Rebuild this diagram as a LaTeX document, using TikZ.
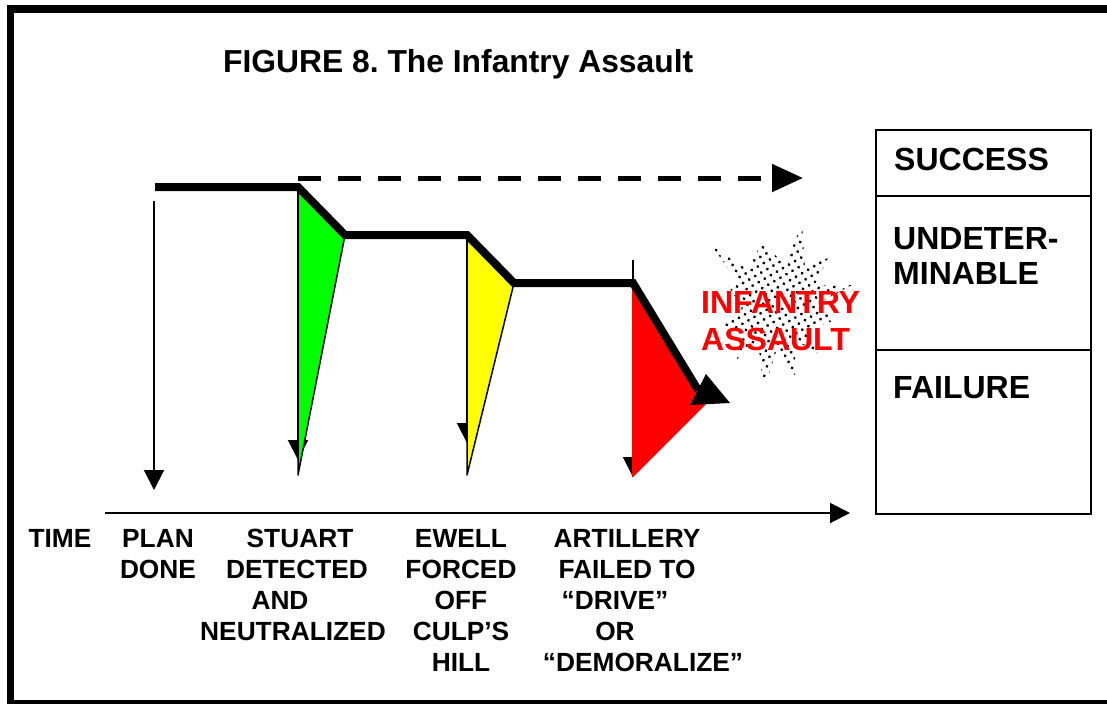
\documentclass[tikz,border=0pt]{standalone}
\usepackage{fontspec}
\setmainfont{Liberation Sans}
\usetikzlibrary{arrows.meta,patterns.meta}
\definecolor{vgreen}{RGB}{0,255,0}
\definecolor{vyellow}{RGB}{255,255,0}
\definecolor{vred}{RGB}{255,0,0}
\frenchspacing
\begin{document}
\begin{tikzpicture}[x=1pt,y=-1pt,
  thinarrow/.style={line width=2pt,-{Triangle[length=20pt,width=20pt]}},
  stage/.style={line width=8pt},
  lbl/.style={font=\bfseries\fontsize{26.3}{31}\selectfont, align=center, anchor=north, inner sep=0pt},
  boxlbl/.style={font=\bfseries\fontsize{32}{35}\selectfont, anchor=base west, inner sep=0pt},
  cell/.style={draw, line width=1.5pt, minimum width=215pt, anchor=north west, inner sep=0pt},
  wedge/.style={draw=black, line width=1.5pt, line join=round}]
\useasboundingbox (0,0) rectangle (1107,704);
\fill[white] (0,0) rectangle (1107,704);
% frame
\fill[black] (7,5) rectangle (1107,13);
\fill[black] (7,5) rectangle (14,704);
\fill[black] (7,700) rectangle (1107,704);

% title
\node[font=\bfseries\fontsize{31.8}{36}\selectfont, anchor=base west, inner sep=0pt] (title) at (223,72) {FIGURE 8. The Infantry Assault};

% key points of the stage line
\coordinate (p0) at (155,187);
\coordinate (p1) at (298,187);
\coordinate (p2) at (345,235);
\coordinate (p3) at (467,235);
\coordinate (p4) at (514,283);
\coordinate (p5) at (633,283);
\coordinate (p6) at (698,390);

% vertical arrows
\coordinate (a0s) at (154,201); \coordinate (a0e) at (154,490);
\coordinate (a1s) at (298,190); \coordinate (a1e) at (298,460);
\coordinate (a2s) at (467,238); \coordinate (a2e) at (467,443);
\coordinate (a3s) at (633,260); \coordinate (a3e) at (633,477);
\draw[thinarrow] (a0s) -- (a0e);
\draw[thinarrow] (a1s) -- (a1e);
\draw[thinarrow] (a2s) -- (a2e);
\draw[thinarrow] (a3s) -- (a3e);

% coloured wedges
\coordinate (g0) at (298,475);
\coordinate (y0) at (467,475);
\coordinate (r0) at (633,477);
\coordinate (r1) at (707,403);
\filldraw[wedge, fill=vgreen] (p1) -- (p2) -- (g0) -- cycle;
\filldraw[wedge, fill=vyellow] (p3) -- (p4) -- (y0) -- cycle;
\fill[vred] (632,283) -- (p5) -- (r1) -- (r0) -- (632,477) -- cycle;

% stage line and its head
\draw[stage] (p0) -- (p1) -- (p2) -- (p3) -- (p4) -- (p5) -- (p6);
\fill[black] (690,405) -- (730,403) -- (706,374) -- cycle;

% dashed arrow
\coordinate (d0) at (298,178);
\coordinate (d1) at (803,178);
\draw[line width=5pt, dash pattern=on 23pt off 17pt, -{Triangle[length=31pt,width=27pt]}] (d0) -- (d1);

% time axis
\coordinate (t0) at (105,513);
\coordinate (t1) at (850,513);
\draw[thinarrow] (t0) -- (t1);

% starburst
\fill[pattern={Dots[distance=7pt, radius=1.6pt, angle=30]}, pattern color=black]
  (712,246) -- (748,270) -- (762,242) -- (785,265) -- (802,224) -- (805,268) --
  (828,258) -- (815,285) -- (852,285) -- (815,305) -- (835,320) -- (808,330) --
  (825,358) -- (795,340) -- (795,378) -- (778,345) -- (764,390) -- (758,342) --
  (736,360) -- (745,330) -- (718,325) -- (742,308) -- (728,285) -- (740,285) -- cycle;
\node[font=\bfseries\fontsize{32}{37}\selectfont, text=vred, anchor=base west, inner sep=0pt] (inf) at (701,313) {INFANTRY};
\node[font=\bfseries\fontsize{32}{37}\selectfont, text=vred, anchor=base west, inner sep=0pt] (ass) at (701,350) {ASSAULT};

% outcome box
\node[cell, minimum height=66pt] (succ) at (875,129) {};
\node[cell, minimum height=154pt] (und) at (875,195) {};
\node[cell, minimum height=164pt] (fail) at (875,349) {};
\node[boxlbl] (succt) at (894,170) {SUCCESS};
\node[boxlbl] (undt1) at (893,249) {UNDETER-};
\node[boxlbl] (undt2) at (893,284) {MINABLE};
\node[boxlbl] (failt) at (893,398) {FAILURE};

% time labels
\node[lbl] (time) at (60,529) {TIME};
\node[lbl] (plan) at (158,529) {PLAN\\DONE};
\node[lbl] (stuart) at (293,529) {\hspace*{14pt}STUART\\\hspace*{8pt}DETECTED\\AND\hspace*{26pt}\mbox{}\\NEUTRALIZED};
\node[lbl] (ewell) at (461,529) {EWELL\\FORCED\\OFF\\CULP’S\\HILL};
\node[lbl] (art) at (627,529) {ARTILLERY\\FAILED TO\\“DRIVE”\hspace*{24pt}\mbox{}\\OR\hspace*{24pt}\mbox{}\\\hspace*{32pt}“DEMORALIZE”};
\end{tikzpicture}
\end{document}
